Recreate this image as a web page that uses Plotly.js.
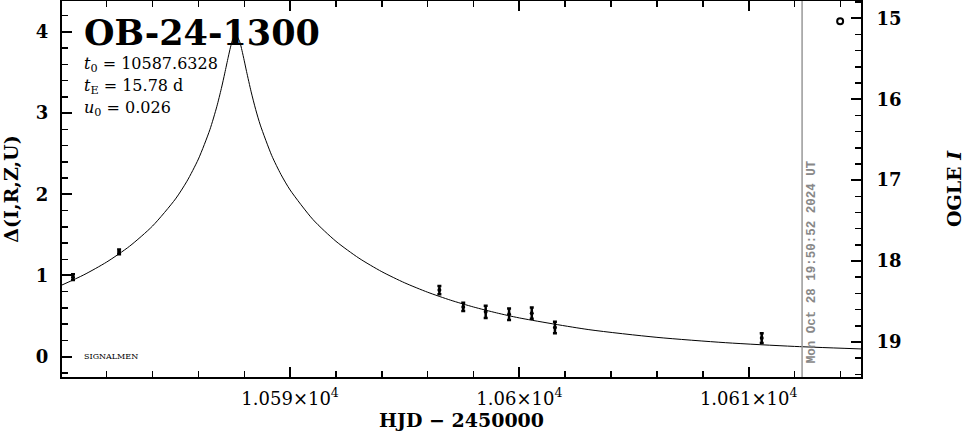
<!DOCTYPE html>
<html>
<head>
<meta charset="utf-8">
<script src="https://cdn.plot.ly/plotly-3.0.1.min.js"></script>
<style>html,body{margin:0;padding:0;background:#fff;}#chart{width:965px;height:434px;}</style>
</head>
<body>
<div id="chart"></div>
<script>
// ---- data ----
const eventName = "OB-24-1300";
const paramLines = ["<i>t</i><sub>0</sub> = 10587.6328", "<i>t</i><sub>E</sub> = 15.78 d", "<i>u</i><sub>0</sub> = 0.026"];
const obsHJD   = [10580.53, 10582.54, 10596.51, 10597.55, 10598.53, 10599.55, 10600.54, 10601.55, 10610.57];
const obsDelta = [0.979, 1.29, 0.82, 0.613, 0.552, 0.523, 0.536, 0.36, 0.23];
const obsErr   = [0.035, 0.03, 0.05, 0.05, 0.075, 0.07, 0.07, 0.07, 0.06];
const openHJD   = [10613.99];
const openDelta = [4.13];
const modelHJD = [10580, 10581, 10582, 10583, 10584, 10585, 10585.5, 10586, 10586.5, 10586.8, 10587, 10587.15, 10587.3, 10587.4, 10587.5, 10587.63, 10587.8, 10587.9, 10588, 10588.1, 10588.3, 10588.5, 10588.7, 10589.2, 10589.6, 10590, 10591, 10592, 10593, 10594, 10595, 10596, 10597, 10598, 10599, 10600, 10603, 10606, 10609, 10612, 10615.4];
const modelDelta = [0.8765, 1.0076, 1.1659, 1.3609, 1.6093, 1.9427, 2.1608, 2.4343, 2.7954, 3.0774, 3.3026, 3.4915, 3.6886, 3.8114, 3.9088, 3.9629, 3.8795, 3.7710, 3.6436, 3.5119, 3.2615, 3.0418, 2.8520, 2.4757, 2.2441, 2.0530, 1.6877, 1.4208, 1.2136, 1.0467, 0.9091, 0.7937, 0.6958, 0.6120, 0.5399, 0.4774, 0.3344, 0.2383, 0.1724, 0.1266, 0.0908];
const nowHJD = 10612.33;
const nowLabel = "Mon Oct 28 19:50:52 2024 UT";
const xTickVals = [10590, 10600, 10610];
const xTickText = ["1.059×10<sup>4</sup>", "1.06×10<sup>4</sup>", "1.061×10<sup>4</sup>"];
const yTickVals = [0, 1, 2, 3, 4];
const y2TickVals = [15, 16, 17, 18, 19];
const xRange = [10580.05, 10614.9];
const yRange = [-0.25, 4.38];
const y2Range = [19.433, 14.786];

const FONT = "DejaVu Serif";
const tickFont = {family: FONT, size: 18, color: "#000", weight: "bold"};
const titleFont = {family: FONT, size: 19, color: "#000", weight: "bold"};

const traces = [
  {x: modelHJD, y: modelDelta, type: "scatter", mode: "lines",
   line: {color: "#000", width: 1, shape: "spline", smoothing: 0.7}, hoverinfo: "skip", showlegend: false},
  {x: obsHJD, y: obsDelta, type: "scatter", mode: "markers",
   marker: {color: "#000", size: 4},
   error_y: {type: "data", array: obsErr, visible: true, color: "#000", thickness: 2.5, width: 2},
   showlegend: false},
  {x: openHJD, y: openDelta, type: "scatter", mode: "markers",
   marker: {color: "#fff", size: 6, symbol: "circle", line: {color: "#000", width: 2}},
   showlegend: false},
  {x: [], y: [], yaxis: "y2", type: "scatter", showlegend: false}
];

const layout = {
  width: 965, height: 434,
  margin: {l: 62, r: 104, t: 1, b: 57},
  paper_bgcolor: "#fff", plot_bgcolor: "#fff",
  showlegend: false,
  xaxis: {
    range: xRange, tickmode: "array", tickvals: xTickVals, ticktext: xTickText,
    ticks: "inside", ticklen: 10, tickwidth: 2, tickcolor: "#000",
    minor: {ticks: "inside", ticklen: 6, tickwidth: 1.5, tickcolor: "#000", dtick: 2, tick0: 10580, showgrid: false},
    showline: true, linecolor: "#000", linewidth: 2, mirror: "ticks",
    showgrid: false, zeroline: false, tickfont: {family: FONT, size: 18, color: "#000"}, ticklabelstandoff: 4,
    title: {text: "HJD − 2450000", font: titleFont, standoff: 2}
  },
  yaxis: {
    range: yRange, tickmode: "array", tickvals: yTickVals,
    ticks: "inside", ticklen: 10, tickwidth: 2, tickcolor: "#000",
    minor: {ticks: "inside", ticklen: 6, tickwidth: 1.5, tickcolor: "#000", dtick: 0.2, tick0: 0, showgrid: false},
    showline: true, linecolor: "#000", linewidth: 2, mirror: false,
    showgrid: false, zeroline: false, tickfont: tickFont, ticklabelstandoff: 8,
    title: {text: "Δ(I,R,Z,U)", font: titleFont, standoff: 12}
  },
  yaxis2: {
    overlaying: "y", side: "right", range: y2Range, tickmode: "array", tickvals: y2TickVals,
    ticks: "inside", ticklen: 10, tickwidth: 2, tickcolor: "#000",
    minor: {ticks: "inside", ticklen: 6, tickwidth: 1.5, tickcolor: "#000", dtick: 0.2, tick0: 15, showgrid: false},
    showline: true, linecolor: "#000", linewidth: 2,
    showgrid: false, zeroline: false, tickfont: tickFont, ticklabelstandoff: 10,
    title: {text: "OGLE <i>I</i>", font: titleFont, standoff: 48}
  },
  shapes: [
    {type: "line", xref: "x", yref: "paper", x0: nowHJD, x1: nowHJD, y0: 0, y1: 1,
     line: {color: "#999", width: 1.5}}
  ],
  annotations: [
    {xref: "paper", yref: "paper", x: 0.025, y: 0.915, xanchor: "left", yanchor: "middle",
     text: "<b>" + eventName + "</b>", showarrow: false,
     font: {family: FONT, size: 35, color: "#000"}},
    {xref: "paper", yref: "paper", x: 0.025, y: 0.832, xanchor: "left", yanchor: "middle",
     text: paramLines[0], showarrow: false, font: {family: FONT, size: 16, color: "#000"}},
    {xref: "paper", yref: "paper", x: 0.025, y: 0.773, xanchor: "left", yanchor: "middle",
     text: paramLines[1], showarrow: false, font: {family: FONT, size: 16, color: "#000"}},
    {xref: "paper", yref: "paper", x: 0.025, y: 0.715, xanchor: "left", yanchor: "middle",
     text: paramLines[2], showarrow: false, font: {family: FONT, size: 16, color: "#000"}},
    {xref: "paper", yref: "paper", x: 0.025, y: 0.055, xanchor: "left", yanchor: "middle",
     text: "SIGNALMEN", showarrow: false, font: {family: FONT, size: 8, color: "#000"}},
    {xref: "x", yref: "paper", x: nowHJD, y: 0.03, xanchor: "left", yanchor: "bottom",
     xshift: 1, text: "<b>" + nowLabel + "</b>", textangle: -90, showarrow: false,
     font: {family: "Liberation Mono", size: 12.5, color: "#888"}}
  ]
};

Plotly.newPlot("chart", traces, layout, {staticPlot: true, displayModeBar: false});
</script>
</body>
</html>
